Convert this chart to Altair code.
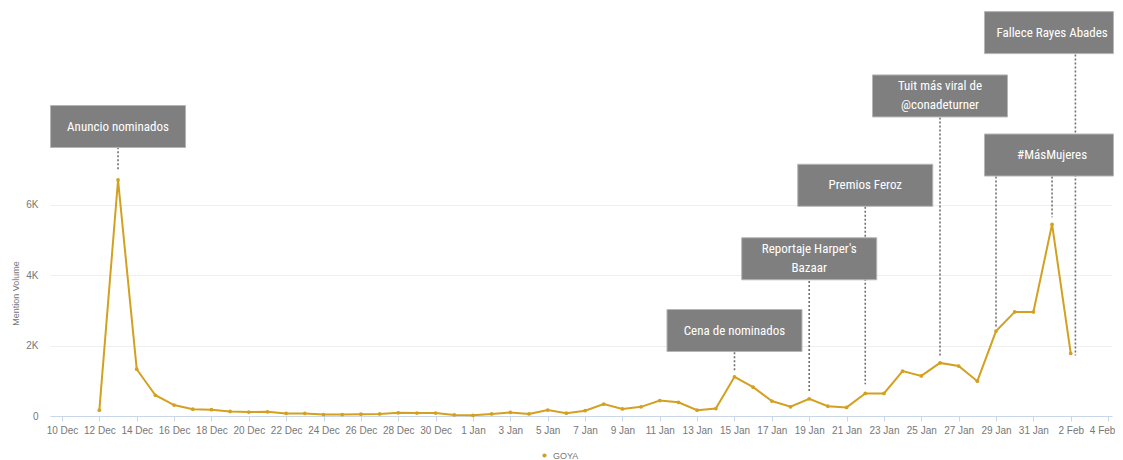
import altair as alt
import pandas as pd

# ---- data ----
dates = pd.date_range("2017-12-12", "2018-02-02", freq="D").strftime("%Y-%m-%d").tolist()
mentions = [165, 6710, 1330, 590, 310, 195, 180, 130, 112, 120,
            72, 72, 42, 42, 52, 60, 90, 82, 82, 30,
            20, 60, 100, 60, 170, 80, 150, 340, 200, 260,
            440, 390, 165, 210, 1115, 820, 425, 262, 490, 280,
            245, 640, 640, 1275, 1140, 1510, 1420, 990, 2415, 2960,
            2960, 5450, 1780]
series = ["GOYA"] * len(dates)

# annotation boxes: label lines, text centre date, box centre date, box centre level, box width group
box_labels = [["Anuncio nominados"], ["Cena de nominados"], ["Reportaje Harper's", "Bazaar"],
              ["Premios Feroz"], ["Tuit más viral de", "@conadeturner"], ["#MásMujeres"],
              ["Fallece Rayes Abades"]]
text_dates = ["2017-12-13", "2018-01-15", "2018-01-19", "2018-01-22",
              "2018-01-26", "2018-02-01", "2018-02-01"]
box_dates = ["2017-12-13", "2018-01-15", "2018-01-19", "2018-01-22",
             "2018-01-26", "2018-01-31T20:00:00Z", "2018-01-31T20:00:00Z"]
box_levels = [8230, 2430, 4470, 6560, 9100, 7420, 10900]
box_edge = [False, False, False, False, False, True, True]

# dotted leader lines: date, top level, bottom level
lead_dates = ["2017-12-13", "2018-01-15", "2018-01-19", "2018-01-22",
              "2018-01-26", "2018-01-29", "2018-02-01", "2018-02-02T06:00:00Z"]
lead_top = [7640, 1810, 3840, 5950, 8490, 6810, 6810, 10280]
lead_bottom = [6960, 1275, 660, 900, 1690, 2520, 5650, 1720]

tick_dates = pd.date_range("2017-12-10", "2018-02-04", freq="2D", tz="UTC")
tick_values = [int(d.timestamp() * 1000) for d in tick_dates]

df = pd.DataFrame({"date": dates, "mentions": mentions, "series": series})
boxes = pd.DataFrame({"tdate": text_dates, "bdate": box_dates, "level": box_levels,
                      "label": box_labels, "edge": box_edge,
                      "nlines": [len(l) for l in box_labels]})
leads = pd.DataFrame({"date": lead_dates, "top": lead_top, "bottom": lead_bottom})

GOLD = "#d4a020"
xscale = alt.Scale(type="utc", nice=False,
                   domain=[alt.DateTime(year=2017, month=12, date=9, hours=8, minutes=35, utc=True),
                           alt.DateTime(year=2018, month=2, date=4, hours=5, minutes=0, utc=True)])
yscale = alt.Scale(domain=[0, 11600], nice=False)

xaxis = alt.Axis(values=tick_values, format="%-d %b", title=None, grid=False,
                 domainColor="#c9d6e8", tickColor="#c9d6e8", tickSize=5,
                 labelColor="#777777", labelFontSize=10, labelFont="Liberation Sans",
                 labelPadding=4, labelOverlap=False, labelBound=False, labelFlush=False,
                 labelOffset={"condition": {"test": f"datum.value >= {tick_values[-1]}", "value": -6},
                              "value": 0})
yaxis = alt.Axis(values=[0, 2000, 4000, 6000],
                 labelExpr="datum.value == 0 ? '0' : (datum.value / 1000) + 'K'",
                 title="Mention Volume", titleFontSize=9, titleFontWeight="normal",
                 titleColor="#777777", titleFont="Liberation Sans",
                 titleX=-35, titleY=285, titleAngle=270, titleBaseline="middle",
                 domain=False, ticks=False, gridColor="#efefef",
                 labelColor="#777777", labelFontSize=10, labelFont="Liberation Sans",
                 labelPadding=12)


def X(field):
    return alt.X(field, type="temporal", scale=xscale, axis=xaxis)


def Y(field):
    return alt.Y(field, type="quantitative", scale=yscale, axis=yaxis)


base = alt.Chart(df)

line = base.mark_line(strokeWidth=2, color=GOLD).encode(x=X("date"), y=Y("mentions"))
points = base.mark_point(filled=True, size=14, opacity=1).encode(
    x=X("date"), y=Y("mentions"),
    color=alt.Color("series:N", scale=alt.Scale(range=[GOLD]),
                    legend=alt.Legend(title=None, orient="none", legendX=490, legendY=443,
                                      symbolSize=18, labelFontSize=9, labelColor="#777777",
                                      labelFont="Liberation Sans", symbolType="circle")),
)

rules = alt.Chart(leads).mark_rule(color="#707070", strokeWidth=1.6, strokeDash=[2, 2]).encode(
    x=X("date"), y=Y("top"), y2="bottom:Q")

rects = alt.Chart(boxes).transform_filter("!datum.edge").mark_rect(
    width=135, height=42, color="#7f7f7f", stroke="#b5b5b5", strokeWidth=1).encode(
    x=X("bdate"), y=Y("level"))
rects_edge = alt.Chart(boxes).transform_filter("datum.edge").mark_rect(
    width=129, height=42, color="#7f7f7f", stroke="#b5b5b5", strokeWidth=1).encode(
    x=X("bdate"), y=Y("level"))

texts = alt.Chart(boxes).transform_calculate(
    tlevel="datum.level + (datum.nlines - 1) * 270").mark_text(
    color="white", fontSize=13, font="Liberation Sans Narrow, Roboto Condensed, Roboto",
    lineHeight=19, baseline="middle", align="center").encode(
    x=X("tdate"), y=Y("tlevel"), text="label")

chart = alt.layer(rules, line, points, rects, rects_edge, texts).properties(
    width=1062, height=408,
    autosize=alt.AutoSizeParams(type="none"),
    padding={"left": 42, "top": 0, "right": 3, "bottom": 46},
).configure_view(strokeWidth=0).configure_axisX(labelOverlap=False)

chart.save("out.html", embed_options={"renderer": "svg", "actions": False})
